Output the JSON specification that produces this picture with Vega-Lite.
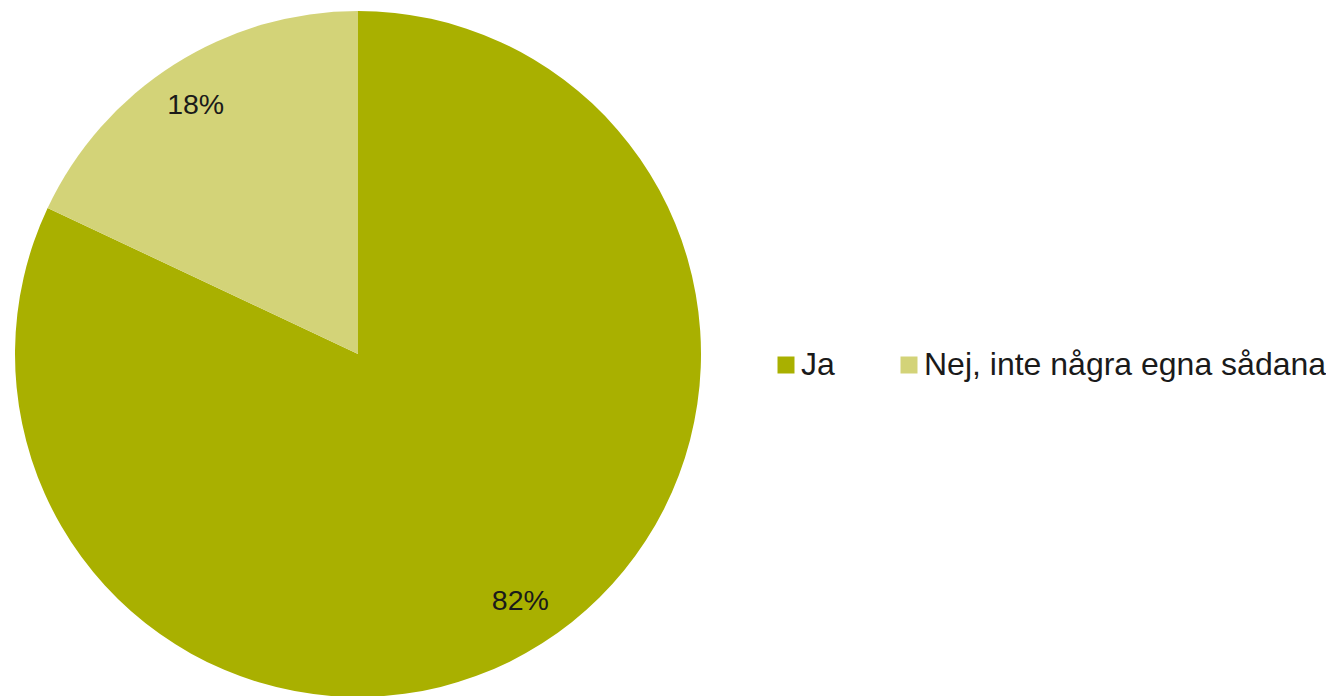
{
  "$schema": "https://vega.github.io/schema/vega-lite/v6.json",
  "width": 716,
  "height": 708,
  "autosize": "none",
  "padding": {"left": 0, "top": 0, "right": 610, "bottom": 0},
  "background": "white",
  "data": {
    "values": [
      {"svar": "Ja", "andel": 82, "etikett": "82%"},
      {"svar": "Nej, inte några egna sådana", "andel": 18, "etikett": "18%"}
    ]
  },
  "encoding": {
    "theta": {"field": "andel", "type": "quantitative", "stack": true},
    "order": {"field": "andel", "type": "quantitative", "sort": "descending"}
  },
  "layer": [
    {
      "mark": {"type": "arc", "outerRadius": 343},
      "encoding": {
        "color": {
          "field": "svar",
          "type": "nominal",
          "scale": {"domain": ["Ja", "Nej, inte några egna sådana"], "range": ["#A9B000", "#D3D378"]},
          "legend": {
            "title": null,
            "orient": "none",
            "legendX": 770,
            "legendY": 349,
            "direction": "horizontal",
            "columns": 2,
            "columnPadding": 58,
            "symbolType": "square",
            "symbolSize": 289,
            "symbolStrokeWidth": 0,
            "symbolOpacity": 1,
            "labelFont": "Liberation Sans",
            "labelFontSize": 32,
            "labelColor": "#1a1a1a",
            "labelOffset": -1,
            "labelLimit": 600,
            "padding": 0
          }
        }
      }
    },
    {
      "mark": {"type": "text", "radius": 296, "thetaOffset": -0.015, "dy": -1, "fontSize": 28.5, "font": "Liberation Sans", "baseline": "middle", "align": "center"},
      "encoding": {
        "text": {"field": "etikett", "type": "nominal"},
        "color": {"value": "#1a1a1a"},
        "detail": {"field": "svar", "type": "nominal"}
      }
    }
  ],
  "config": {"view": {"stroke": null}}
}
